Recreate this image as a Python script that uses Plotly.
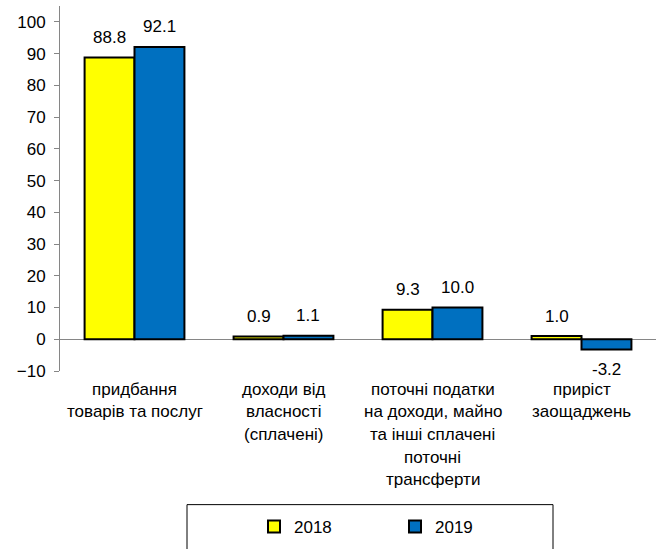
import plotly.graph_objects as go

# Structure of household expenditure, % of total
categories = [
    "придбання товарів та послуг",
    "доходи від власності (сплачені)",
    "поточні податки на доходи, майно та інші сплачені поточні трансферти",
    "приріст заощаджень",
]
category_lines = [
    ["придбання", "товарів та послуг"],
    ["доходи від", "власності", "(сплачені)"],
    ["поточні податки", "на доходи, майно", "та інші сплачені", "поточні", "трансферти"],
    ["приріст", "заощаджень"],
]
values_2018 = [88.8, 0.9, 9.3, 1.0]
values_2019 = [92.1, 1.1, 10.0, -3.2]
series_names = ["2018", "2019"]
y_ticks = [-10, 0, 10, 20, 30, 40, 50, 60, 70, 80, 90, 100]

colors = ["#FFFF00", "#0070C0"]
num_font = dict(family="Liberation Sans, Arial, sans-serif", size=17, color="#000000")
cat_font = dict(family="Liberation Sans, Arial, sans-serif", size=17, color="#000000")
axis_grey = "#868686"

x_idx = list(range(len(categories)))

fig = go.Figure()
for name, vals, col in zip(series_names, [values_2018, values_2019], colors):
    fig.add_trace(go.Bar(
        x=x_idx, y=vals, name=name,
        marker=dict(color=col, line=dict(color="#000000", width=2)),
        hoverinfo="skip",
    ))

bargap = 0.33
bar_w = (1 - bargap) / 2
annotations = []
# value labels above (or below, for negatives) each bar
for s, vals in enumerate([values_2018, values_2019]):
    off = (s - 0.5) * bar_w
    for i, v in enumerate(vals):
        annotations.append(dict(
            x=i + off, y=v, xref="x", yref="y",
            text=f"{v:.1f}", showarrow=False, font=num_font,
            xanchor="center", yanchor="middle",
            yshift=20 if v >= 0 else -20,
        ))

# multi-line category captions under the plot area
line_step = 22.7
for i, lines in enumerate(category_lines):
    for k, line in enumerate(lines):
        annotations.append(dict(
            x=i, y=0, xref="x", yref="paper",
            text=line, showarrow=False, font=cat_font,
            xanchor="center", yanchor="middle",
            yshift=-(18 + line_step * k),
        ))

plot_h = 549 - 6 - 177
plot_w = 665 - 60 - 9

def px_x(p):
    return (p - 60) / plot_w

def px_y(p):
    return (6 + plot_h - p) / plot_h

fig.update_layout(
    width=665, height=549,
    margin=dict(l=60, r=9, t=6, b=177),
    paper_bgcolor="#FFFFFF", plot_bgcolor="#FFFFFF",
    barmode="group", bargap=bargap, bargroupgap=0,
    showlegend=True,
    legend=dict(
        orientation="h",
        x=px_x(254), xanchor="left",
        y=px_y(527), yanchor="middle",
        entrywidth=96, entrywidthmode="pixels",
        bgcolor="rgba(0,0,0,0)", borderwidth=0,
        font=dict(family="Liberation Sans, Arial, sans-serif", size=17, color="#000000"),
    ),
    xaxis=dict(
        type="linear", range=[-0.5, len(categories) - 0.5],
        showticklabels=False, showline=False, showgrid=False,
        zeroline=False, ticks="",
    ),
    yaxis=dict(
        range=[-10, 105], tickvals=y_ticks,
        ticks="outside", ticklen=5, tickcolor=axis_grey, tickwidth=1,
        showline=True, linecolor=axis_grey, linewidth=1,
        showgrid=False,
        zeroline=True, zerolinecolor=axis_grey, zerolinewidth=1,
        tickfont=num_font, ticklabelstandoff=5,
    ),
    annotations=annotations,
    shapes=[dict(
        type="rect", xref="paper", yref="paper",
        x0=px_x(187), x1=px_x(553), y0=px_y(506), y1=px_y(560),
        line=dict(color="#000000", width=1), fillcolor="rgba(0,0,0,0)",
        layer="below",
    )],
)

fig.write_html("out.html")
